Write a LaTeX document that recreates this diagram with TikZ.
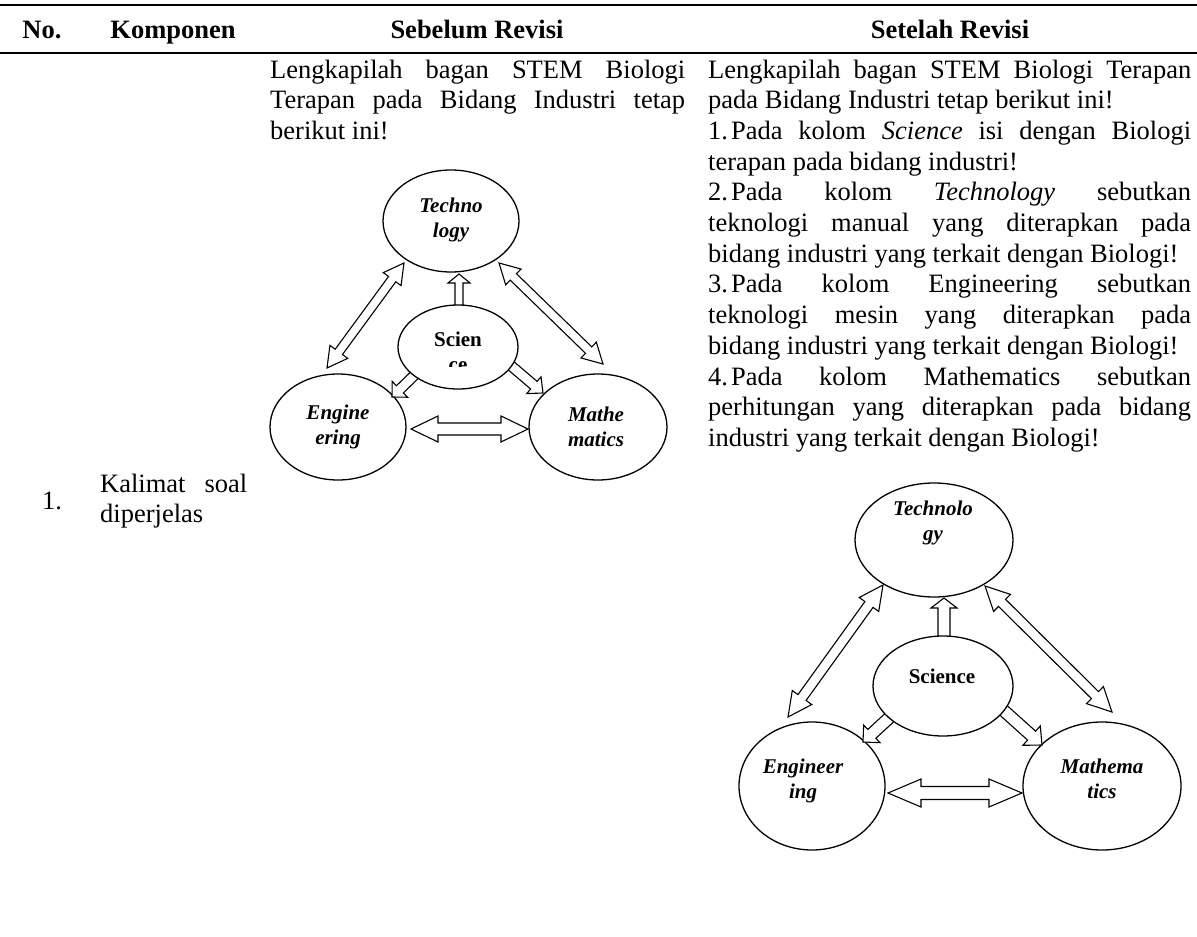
\documentclass[tikz,border=0pt]{standalone}
\usepackage{fontspec}
\setmainfont{Liberation Serif}
\usetikzlibrary{shapes.geometric,calc}
\tikzset{
  oval/.style={ellipse, draw, line width=1.3pt, fill=white, inner sep=0pt},
  ovtext/.style={inner sep=0pt, align=center, font=\fontsize{21pt}{25pt}\selectfont\bfseries\itshape},
  ovtextup/.style={inner sep=0pt, align=center, font=\fontsize{21pt}{25pt}\selectfont\bfseries},
  blk/.style={draw, line width=1.1pt, fill=white, line join=miter},
  tablerule/.style={line width=1.6pt},
  hdr/.style={anchor=base, inner sep=0pt, font=\fontsize{26.5pt}{30.7pt}\selectfont\bfseries},
  body/.style={anchor=base west, inner sep=0pt, font=\fontsize{26.5pt}{30.7pt}\selectfont},
}
% double-headed block arrow: #1,#2 tips; #3 shaft half width; #4 head half width; #5 head length
\newcommand\dblarrow[5]{%
  \coordinate (q1) at ($(#1)!#5!(#2)$);
  \coordinate (q2) at ($(#2)!#5!(#1)$);
  \draw[blk] (#1) -- ($(q1)!#4!90:(#2)$) -- ($(q1)!#3!90:(#2)$) -- ($(q2)!#3!-90:(#1)$)
    -- ($(q2)!#4!-90:(#1)$) -- (#2) -- ($(q2)!#4!90:(#1)$) -- ($(q2)!#3!90:(#1)$)
    -- ($(q1)!#3!-90:(#2)$) -- ($(q1)!#4!-90:(#2)$) -- cycle;}
% single block arrow: #1 tail, #2 tip
\newcommand\onearrow[5]{%
  \coordinate (q3) at ($(#2)!#5!(#1)$);
  \draw[blk] ($(#1)!#3!90:(#2)$) -- ($(q3)!#3!-90:(#1)$) -- ($(q3)!#4!-90:(#1)$) -- (#2)
    -- ($(q3)!#4!90:(#1)$) -- ($(q3)!#3!90:(#1)$) -- ($(#1)!#3!-90:(#2)$) -- cycle;}
\begin{document}
\begin{tikzpicture}[x=1pt,y=-1pt]
\useasboundingbox (0,0) rectangle (1197,937);
\fill[white] (0,0) rectangle (1197,937);
% table rules
\coordinate (r1a) at (0,5);    \coordinate (r1b) at (1197,5);
\coordinate (r2a) at (0,53);   \coordinate (r2b) at (1197,53);
\draw[tablerule] (r1a) -- (r1b);
\draw[tablerule] (r2a) -- (r2b);
% header
\node[hdr] (hno) at (42,38) {No.};
\node[hdr] (hkomp) at (173,38) {Komponen};
\node[hdr] (hseb) at (477,38) {Sebelum Revisi};
\node[hdr] (hset) at (950,38) {Setelah Revisi};
% row 1
\node[body] (num) at (42,509) {1.};
\node[body] (komp) at (100,492) {\parbox[t]{147pt}{\tolerance=10000\hbadness=10000 Kalimat soal\linebreak diperjelas}};
\node[body] (seb) at (270,78) {\parbox[t]{415pt}{\tolerance=10000\hbadness=10000\hyphenpenalty=10000
Lengkapilah bagan STEM Biologi\linebreak Terapan pada Bidang Industri tetap\linebreak berikut ini!}};
\node[body] (set) at (708,78) {\parbox[t]{483pt}{\tolerance=10000\hbadness=10000\hyphenpenalty=10000\parskip=0pt
Lengkapilah bagan STEM Biologi Terapan\linebreak pada Bidang Industri tetap berikut ini!\par
1.\kern3pt Pada kolom \textit{Science} isi dengan Biologi\linebreak terapan pada bidang industri!\par
2.\kern3pt Pada kolom \textit{Technology} sebutkan\linebreak teknologi manual yang diterapkan pada\linebreak bidang industri yang terkait dengan Biologi!\par
3.\kern3pt Pada kolom Engineering sebutkan\linebreak teknologi mesin yang diterapkan pada\linebreak bidang industri yang terkait dengan Biologi!\par
4.\kern3pt Pada kolom Mathematics sebutkan\linebreak perhitungan yang diterapkan pada bidang\linebreak industri yang terkait dengan Biologi!}};

% ===== left diagram =====
\node[oval, minimum width=136pt, minimum height=102pt] (LT) at (451,221) {};
\node[oval, minimum width=136pt, minimum height=106pt] (LE) at (338,427) {};
\node[oval, minimum width=138pt, minimum height=106pt] (LM) at (598,427) {};
\coordinate (la1a) at (404,263); \coordinate (la1b) at (327,368);
\coordinate (la2a) at (499,263); \coordinate (la2b) at (603,364);
\coordinate (la3a) at (459,312); \coordinate (la3b) at (459,274);
\coordinate (la4a) at (428,362); \coordinate (la4b) at (392,397);
\coordinate (la5a) at (502,358); \coordinate (la5b) at (543,393);
\coordinate (la6a) at (411,429); \coordinate (la6b) at (528,429);
\dblarrow{la1a}{la1b}{4.5pt}{11pt}{20pt}
\dblarrow{la2a}{la2b}{4.5pt}{11pt}{20pt}
\onearrow{la3a}{la3b}{4pt}{11pt}{9pt}
\onearrow{la4a}{la4b}{5pt}{11pt}{11pt}
\onearrow{la5a}{la5b}{5pt}{11pt}{12pt}
\dblarrow{la6a}{la6b}{6pt}{13pt}{27pt}
\node[oval, minimum width=120pt, minimum height=84pt] (LS) at (458,347) {};
\node[ovtext] (LTt) at (451,220) {Techno\\logy};
\node[ovtext] (LEt) at (338,427) {Engine\\ering};
\node[ovtext] (LMt) at (596,427) {Mathe\\matics};
\begin{scope}
  \clip (398,300) rectangle (520,366);
  \node[ovtextup, anchor=base] (LSt) at (458,371) {Scien\\ce};
\end{scope}

% ===== right diagram =====
\node[oval, minimum width=158pt, minimum height=114pt] (RT) at (934,540) {};
\node[oval, minimum width=146pt, minimum height=128pt] (RE) at (812,786) {};
\node[oval, minimum width=158pt, minimum height=128pt] (RM) at (1102,786) {};
\coordinate (ra1a) at (883,585); \coordinate (ra1b) at (788,717);
\coordinate (ra2a) at (985,586); \coordinate (ra2b) at (1112,712);
\coordinate (ra3a) at (944,645); \coordinate (ra3b) at (944,598);
\coordinate (ra4a) at (903,705); \coordinate (ra4b) at (863,742);
\coordinate (ra5a) at (992,700); \coordinate (ra5b) at (1042,745);
\coordinate (ra6a) at (888,793); \coordinate (ra6b) at (1022,793);
\dblarrow{ra1a}{ra1b}{5pt}{12pt}{24pt}
\dblarrow{ra2a}{ra2b}{5pt}{12pt}{24pt}
\onearrow{ra3a}{ra3b}{6pt}{13pt}{10pt}
\onearrow{ra4a}{ra4b}{6pt}{12pt}{12pt}
\onearrow{ra5a}{ra5b}{6pt}{13pt}{14pt}
\dblarrow{ra6a}{ra6b}{6.5pt}{14pt}{33pt}
\node[oval, minimum width=140pt, minimum height=100pt] (RS) at (943,686) {};
\node[ovtext] (RTt) at (933,523) {Technolo\\gy};
\node[ovtextup] (RSt) at (942,676) {Science};
\node[ovtext] (REt) at (803,781) {Engineer\\ing};
\node[ovtext] (RMt) at (1102,779) {Mathema\\tics};
\end{tikzpicture}
\end{document}
